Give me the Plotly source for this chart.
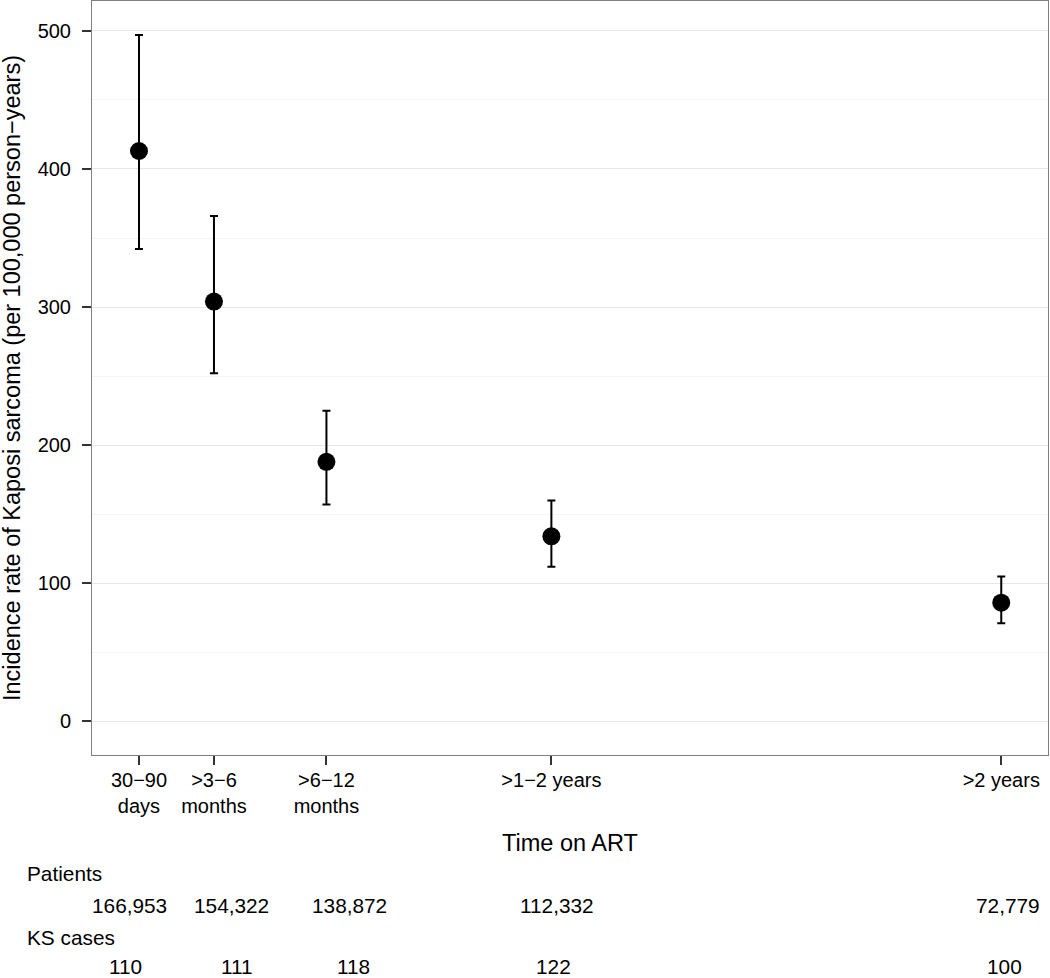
import plotly.graph_objects as go

# ---- data ----
periods = ["30\u221290<br>days", ">3\u22126<br>months", ">6\u221212<br>months", ">1\u22122 years", ">2 years"]
period_mid_months = [1.5, 4.5, 9, 18, 36]
rate = [413, 304, 188, 134, 86]
rate_upper = [497, 366, 225, 160, 105]
rate_lower = [342, 252, 157, 112, 71]
patients = ["166,953", "154,322", "138,872", "112,332", "72,779"]
ks_cases = ["110", "111", "118", "122", "100"]
y_ticks = [0, 100, 200, 300, 400, 500]

FONT = "Liberation Sans, Arial, sans-serif"
W, H = 1050, 978
ML, MR, MT, MB = 92, 2, 1, 223
PW = W - ML - MR
PH = H - MT - MB

err_plus = [u - r for u, r in zip(rate_upper, rate)]
err_minus = [r - l for r, l in zip(rate, rate_lower)]

fig = go.Figure()
fig.add_trace(go.Scatter(
    x=period_mid_months, y=rate, mode="markers",
    marker=dict(size=18, color="black"),
    error_y=dict(type="data", symmetric=False, array=err_plus, arrayminus=err_minus,
                 color="black", thickness=2, width=4),
    showlegend=False, hoverinfo="skip"))

def px_x(p):
    return (p - ML) / PW

def px_y(p):
    return (H - MB - p) / PH

TXT = 20.8
ann = []
# y axis title
ann.append(dict(text="Incidence rate of Kaposi sarcoma (per 100,000 person\u2212years)",
                xref="paper", yref="paper", x=px_x(12), y=0.5, textangle=-90,
                showarrow=False, xanchor="center", yanchor="middle",
                font=dict(size=23.5, color="black", family=FONT)))
# x axis title
ann.append(dict(text="Time on ART", xref="paper", yref="paper", x=0.5, y=px_y(843),
                showarrow=False, xanchor="center", yanchor="middle",
                font=dict(size=23.5, color="black", family=FONT)))
# table headers
ann.append(dict(text="Patients", xref="paper", yref="paper", x=px_x(25), y=px_y(874),
                showarrow=False, xanchor="left", yanchor="middle",
                font=dict(size=TXT, color="black", family=FONT)))
ann.append(dict(text="KS cases", xref="paper", yref="paper", x=px_x(25), y=px_y(937),
                showarrow=False, xanchor="left", yanchor="middle",
                font=dict(size=TXT, color="black", family=FONT)))
pat_shift = [-9, 18, 23, 6, 7]
ks_shift = [-13, 23, 27, 2, 3]
for xv, t, s in zip(period_mid_months, patients, pat_shift):
    ann.append(dict(text=t, xref="x", yref="paper", x=xv, y=px_y(905), xshift=s,
                    showarrow=False, xanchor="center", yanchor="middle",
                    font=dict(size=TXT, color="black", family=FONT)))
for xv, t, s in zip(period_mid_months, ks_cases, ks_shift):
    ann.append(dict(text=t, xref="x", yref="paper", x=xv, y=px_y(966.5), xshift=s,
                    showarrow=False, xanchor="center", yanchor="middle",
                    font=dict(size=TXT, color="black", family=FONT)))

fig.update_layout(
    width=W, height=H,
    margin=dict(l=ML, r=MR, t=MT, b=MB),
    paper_bgcolor="white", plot_bgcolor="white",
    font=dict(family=FONT, color="black"),
    annotations=ann,
    xaxis=dict(range=[-0.38, 37.87], tickvals=period_mid_months, ticktext=periods,
               showgrid=False, zeroline=False, showline=True, mirror=True,
               linecolor="#808080", linewidth=1,
               ticks="outside", ticklen=9, tickwidth=2, tickcolor="#333333",
               tickfont=dict(size=20, color="black", family=FONT),
               ticklabelstandoff=-2),
    yaxis=dict(range=[-24.3, 521.6], tickvals=y_ticks,
               showgrid=True, gridcolor="#e6e6e6", gridwidth=1, zeroline=False,
               showline=True, mirror=True, linecolor="#808080", linewidth=1,
               ticks="outside", ticklen=9, tickwidth=2, tickcolor="#333333",
               tickfont=dict(size=20, color="black", family=FONT),
               ticklabelstandoff=7,
               minor=dict(tickvals=[50, 150, 250, 350, 450], showgrid=True,
                          gridcolor="#f4f4f4", gridwidth=1, ticks="")),
)

fig.write_html("out.html", config={"displayModeBar": False},
               post_script="document.body.style.margin='0';")
